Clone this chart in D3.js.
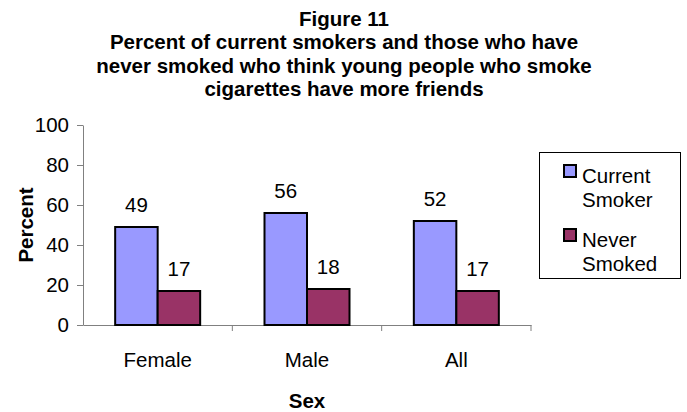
<!DOCTYPE html>
<html>
<head>
<meta charset="utf-8">
<script src="https://cdn.jsdelivr.net/npm/d3@7"></script>
<style>
  body { margin: 0; background: #fff; }
  svg { display: block; font-family: Arial, "Liberation Sans", sans-serif; }
</style>
</head>
<body>
<svg id="chart" width="687" height="412"></svg>
<script>
// Data
const categories = ["Female", "Male", "All"];
const seriesNames = ["Current Smoker", "Never Smoked"];
const currentSmoker = [49, 56, 52];
const neverSmoked = [17, 18, 17];
const yTicks = [0, 20, 40, 60, 80, 100];
const titleLines = [
  "Figure 11",
  "Percent of current smokers and those who have",
  "never smoked who think young people who smoke",
  "cigarettes have more friends"
];
const legendLines = [["Current", "Smoker"], ["Never", "Smoked"]];

const colors = ["#9999FF", "#993366"];
const FS = 20.5;
const svg = d3.select("#chart");

const plot = { left: 83, right: 531, top: 125, bottom: 325 };

const x = d3.scaleBand().domain(categories).range([plot.left, plot.right]).paddingInner(0).paddingOuter(0);
const xSub = d3.scaleBand().domain([0, 1]).range([0, 85]);
const y = d3.scaleLinear().domain([0, 100]).range([plot.bottom, plot.top]);

// Title
svg.append("g").selectAll("text").data(titleLines).join("text")
  .attr("x", 344)
  .attr("y", (d, i) => 26 + i * 23.3)
  .attr("text-anchor", "middle")
  .attr("font-size", FS)
  .attr("font-weight", "bold")
  .text(d => d);

// Y axis
const yAxis = svg.append("g")
  .attr("transform", `translate(${plot.left},0)`)
  .call(d3.axisLeft(y).tickValues(yTicks).tickSize(6).tickPadding(8).tickSizeOuter(0));
yAxis.select(".domain").attr("stroke", "#808080");
yAxis.selectAll(".tick line").attr("stroke", "#808080");
yAxis.selectAll(".tick text").attr("font-size", FS).attr("fill", "#000")
  .attr("font-family", "Arial, 'Liberation Sans', sans-serif");

// X axis
const xAxis = svg.append("g")
  .attr("transform", `translate(0,${plot.bottom})`)
  .call(d3.axisBottom(x).tickSize(0).tickPadding(0).tickSizeOuter(0));
xAxis.select(".domain").attr("stroke", "#808080");
xAxis.selectAll(".tick text").attr("font-size", FS).attr("fill", "#000")
  .attr("dy", 0).attr("y", 42)
  .attr("font-family", "Arial, 'Liberation Sans', sans-serif");
// category divider ticks
svg.append("g").selectAll("line")
  .data(categories.slice(1).map(c => x(c)).concat([plot.right]))
  .join("line")
  .attr("x1", d => d).attr("x2", d => d)
  .attr("y1", plot.bottom).attr("y2", plot.bottom + 6)
  .attr("stroke", "#808080");

// Bars
const groupOffset = (x.bandwidth() - 85) / 2;
const rows = categories.map((c, i) => ({ cat: c, vals: [currentSmoker[i], neverSmoked[i]] }));
const groups = svg.append("g").selectAll("g").data(rows).join("g")
  .attr("transform", d => `translate(${x(d.cat) + groupOffset},0)`);
groups.selectAll("rect").data(d => d.vals.map((v, k) => ({ v, k }))).join("rect")
  .attr("x", d => xSub(d.k))
  .attr("y", d => y(d.v))
  .attr("width", xSub.bandwidth())
  .attr("height", d => y(0) - y(d.v))
  .attr("fill", d => colors[d.k])
  .attr("stroke", "#000")
  .attr("stroke-width", 2);
groups.selectAll("text").data(d => d.vals.map((v, k) => ({ v, k }))).join("text")
  .attr("x", d => xSub(d.k) + xSub.bandwidth() / 2)
  .attr("y", d => y(d.v) - 15)
  .attr("text-anchor", "middle")
  .attr("font-size", FS)
  .text(d => d.v);

// Axis titles
svg.append("text")
  .attr("transform", "translate(33,225) rotate(-90)")
  .attr("text-anchor", "middle")
  .attr("font-size", FS)
  .attr("font-weight", "bold")
  .text("Percent");
svg.append("text")
  .attr("x", 307).attr("y", 408)
  .attr("text-anchor", "middle")
  .attr("font-size", FS)
  .attr("font-weight", "bold")
  .text("Sex");

// Legend
const legend = svg.append("g");
legend.append("rect")
  .attr("x", 539.5).attr("y", 152.5).attr("width", 141).attr("height", 126)
  .attr("fill", "#fff").attr("stroke", "#000").attr("stroke-width", 1);
const items = legend.selectAll("g").data(seriesNames).join("g")
  .attr("transform", (d, i) => `translate(0,${i * 64})`);
items.append("rect")
  .attr("x", 564).attr("y", 165).attr("width", 12).attr("height", 12)
  .attr("fill", (d, i) => colors[i]).attr("stroke", "#000").attr("stroke-width", 2);
items.append("text")
  .attr("font-size", FS)
  .selectAll("tspan").data((d, i) => legendLines[i]).join("tspan")
  .attr("x", 582)
  .attr("y", (d, j) => 183 + j * 24)
  .text(d => d);
</script>
</body>
</html>
